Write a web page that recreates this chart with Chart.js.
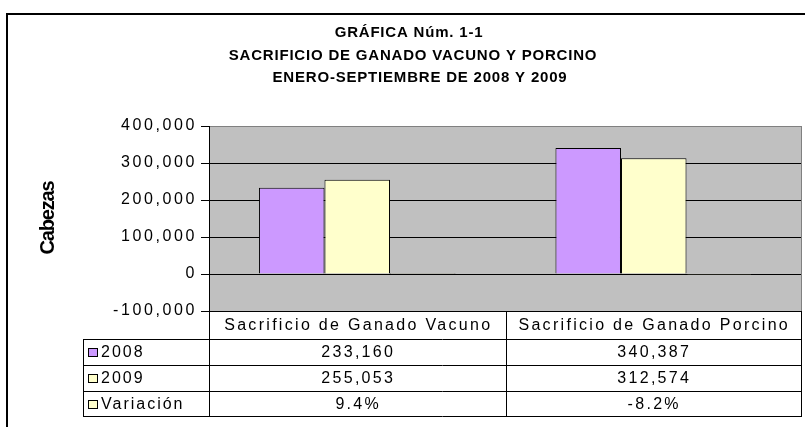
<!DOCTYPE html>
<html><head><meta charset="utf-8">
<script src="https://cdn.jsdelivr.net/npm/chart.js@4/dist/chart.umd.min.js"></script>
<style>html,body{margin:0;padding:0;background:#fff}canvas{display:block}</style>
</head><body>
<canvas id="c" width="805" height="427"></canvas>
<script>
const categories = ['Sacrificio de Ganado Vacuno', 'Sacrificio de Ganado Porcino'];
const seriesNames = ['2008', '2009', 'Variación'];
const values2008 = [233160, 340387];
const values2009 = [255053, 312574];
const variacion = [9.4, -8.2];
const yTicks = [-100000, 0, 100000, 200000, 300000, 400000];
const titleLines = ['GRÁFICA Núm. 1-1', 'SACRIFICIO DE GANADO VACUNO Y PORCINO', 'ENERO-SEPTIEMBRE DE 2008 Y 2009'];
const yAxisTitle = 'Cabezas';
const seriesColors = ['#CC99FF', '#FFFFCC', '#FFFFCC'];

const FONT = '"Liberation Sans", Arial, sans-serif';
const fmtNum = v => v.toLocaleString('en-US');
const fmtPct = v => v.toFixed(1) + '%';
const tableRows = [values2008.map(fmtNum), values2009.map(fmtNum), variacion.map(fmtPct)];

function hline(ctx, x1, x2, y) { ctx.beginPath(); ctx.moveTo(x1, Math.round(y) + 0.5); ctx.lineTo(x2, Math.round(y) + 0.5); ctx.stroke(); }
function vline(ctx, x, y1, y2) { ctx.beginPath(); ctx.moveTo(Math.round(x) + 0.5, y1); ctx.lineTo(Math.round(x) + 0.5, y2); ctx.stroke(); }

const excel = {
  id: 'excel',
  beforeDraw(chart) {
    const {ctx, chartArea: a} = chart;
    ctx.save();
    ctx.fillStyle = '#fff'; ctx.fillRect(0, 0, chart.width, chart.height);
    ctx.fillStyle = '#C0C0C0'; ctx.fillRect(a.left, a.top, a.right - a.left, a.bottom - a.top);
    ctx.restore();
    ctx.letterSpacing = '2.6px';
  },
  afterDraw(chart) {
    const {ctx, chartArea: a, scales: {x}} = chart;
    ctx.save();
    ctx.letterSpacing = '0px';
    ctx.strokeStyle = '#808080'; ctx.lineWidth = 1;
    vline(ctx, a.right - 1, a.top, a.bottom);
    const b = Math.round(a.bottom);
    const rowY = [b, b + 28, b + 54, b + 80, b + 105];
    const half = (x.getPixelForValue(1) - x.getPixelForValue(0)) / 2;
    const cols = [x.getPixelForValue(0) - half, x.getPixelForValue(0) + half, x.getPixelForValue(1) + half - 1];
    const legLeft = 83;
    ctx.strokeStyle = '#000';
    for (let k = 1; k <= 4; k++) hline(ctx, legLeft, cols[2] + 1, rowY[k]);
    vline(ctx, legLeft, rowY[1], rowY[4] + 1);
    cols.forEach(c => vline(ctx, c, a.bottom, rowY[4] + 1));
    ctx.fillStyle = '#000';
    ctx.font = '16px ' + FONT;
    ctx.letterSpacing = '2.3px';
    ctx.textAlign = 'center'; ctx.textBaseline = 'middle';
    categories.forEach((c, i) => {
      const cx = (cols[i] + cols[i + 1]) / 2 + 1;
      ctx.fillText(c, cx, (rowY[0] + rowY[1]) / 2 + 1);
      tableRows.forEach((r, j) => ctx.fillText(r[i], cx, (rowY[j + 1] + rowY[j + 2]) / 2 + 1));
    });
    ctx.textAlign = 'left';
    ctx.letterSpacing = '2px';
    seriesNames.forEach((n, j) => {
      const cy = (rowY[j + 1] + rowY[j + 2]) / 2;
      ctx.fillStyle = seriesColors[j];
      ctx.fillRect(88, Math.round(cy) - 3, 9, 8);
      ctx.strokeStyle = '#000';
      ctx.strokeRect(88.5, Math.round(cy) - 3.5, 9, 8);
      ctx.fillStyle = '#000';
      ctx.fillText(n, 101, cy + 1);
    });
    ctx.font = 'bold 15px ' + FONT;
    ctx.letterSpacing = '0.8px';
    ctx.textAlign = 'center';
    const tx = [409, 413, 420], ty = [33, 56, 78];
    titleLines.forEach((t, i) => ctx.fillText(t, tx[i], ty[i]));
    ctx.save();
    ctx.translate(48, 218);
    ctx.rotate(-Math.PI / 2);
    ctx.font = 'bold 20px ' + FONT;
    ctx.letterSpacing = '-1.2px';
    ctx.fillText(yAxisTitle, 0, 0);
    ctx.restore();
    ctx.strokeStyle = '#000'; ctx.lineWidth = 2;
    ctx.strokeRect(7, 14, 820, 440);
    ctx.restore();
  }
};

new Chart(document.getElementById('c'), {
  type: 'bar',
  data: {
    labels: categories,
    datasets: [
      {label: seriesNames[0], data: values2008, backgroundColor: seriesColors[0], borderColor: '#000', borderWidth: 1},
      {label: seriesNames[1], data: values2009, backgroundColor: seriesColors[1], borderColor: '#000', borderWidth: 1},
      {label: seriesNames[2], data: variacion, backgroundColor: seriesColors[2], borderColor: '#000', borderWidth: 1}
    ]
  },
  options: {
    responsive: false, animation: false, events: [],
    layout: {padding: {left: 0, top: 126, right: 3, bottom: 116}},
    datasets: {bar: {categoryPercentage: 0.663, barPercentage: 1}},
    plugins: {legend: {display: false}, title: {display: false}, tooltip: {enabled: false}},
    scales: {
      x: {display: false},
      y: {
        min: -100000, max: 400000,
        afterBuildTicks: s => { s.ticks = yTicks.map(v => ({value: v})); },
        afterFit: s => { s.width = 209; },
        ticks: {color: '#000', font: {family: FONT, size: 16}, padding: 4, callback: v => fmtNum(v)},
        grid: {color: c => (c.tick && c.tick.value === 400000) ? '#808080' : '#000', tickLength: 8, tickColor: '#000', lineWidth: 1},
        border: {color: '#000'}
      }
    }
  },
  plugins: [excel]
});
</script>
</body></html>
